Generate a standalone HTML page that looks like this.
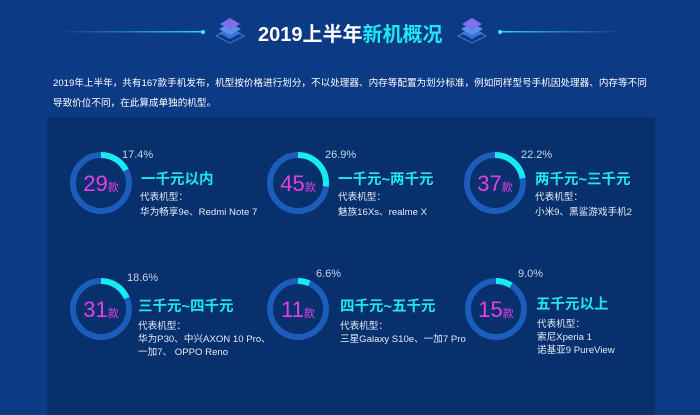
<!DOCTYPE html>
<html><head><meta charset="utf-8"><style>
body{margin:0;width:700px;height:415px;overflow:hidden;background:#0c3a84;font-family:"Liberation Sans","Noto Sans CJK SC",sans-serif;position:relative;color:#fff}
.a{position:absolute;white-space:nowrap}
.p{font-size:9.6px;color:#fff;left:53px}
.pct{font-size:11px;color:#c8d4ea}
.t{font-size:14.5px;font-weight:bold;color:#1ee8f2}
.s{font-size:9.6px;color:#e4ebf7;line-height:15px}
.n{font-size:22px;color:#e53fe6;text-align:center;width:60px}
.n small{font-size:11px}
</style></head><body>
<div class="a" style="left:47px;top:117px;width:608px;height:298px;background:#08306c"></div>
<svg class="a" style="left:0;top:0" width="700" height="60">
<defs><linearGradient id="l1" x1="0" x2="1"><stop offset="0" stop-color="#2bb8ff" stop-opacity="0"/><stop offset="1" stop-color="#2bd8ff"/></linearGradient>
<linearGradient id="l2" x1="1" x2="0"><stop offset="0" stop-color="#2bb8ff" stop-opacity="0"/><stop offset="1" stop-color="#2bd8ff"/></linearGradient></defs>
<rect x="55" y="31" width="148" height="1.5" fill="url(#l1)"/><circle cx="203" cy="32" r="2" fill="#3ef"/>
<rect x="500" y="31" width="128" height="1.5" fill="url(#l2)"/><circle cx="500" cy="32" r="2" fill="#3ef"/>
<g transform="translate(230,30)"><path d="M-14 6 L0 -1 L14 6 L0 13Z" fill="none" stroke="#2f7fd0"/><path d="M-11 3 L0 -3 L11 3 L0 9Z" fill="#3c72d8"/><path d="M-11 -1 L0 -7 L11 -1 L0 5Z" fill="#5a8ff0"/><path d="M-10 -6 L0 -12 L10 -6 L0 0Z" fill="#7d70e8"/></g>
<g transform="translate(472,30)"><path d="M-14 6 L0 -1 L14 6 L0 13Z" fill="none" stroke="#2f7fd0"/><path d="M-11 3 L0 -3 L11 3 L0 9Z" fill="#3c72d8"/><path d="M-11 -1 L0 -7 L11 -1 L0 5Z" fill="#5a8ff0"/><path d="M-10 -6 L0 -12 L10 -6 L0 0Z" fill="#7d70e8"/></g>
</svg>
<div class="a" style="left:258px;top:18px;font-size:20px;font-weight:bold">2019上半年<span style="color:#1ee8f2">新机概况</span></div>
<div class="a p" style="top:75px">2019年上半年，共有167款手机发布，机型按价格进行划分，不以处理器、内存等配置为划分标准，例如同样型号手机因处理器、内存等不同</div>
<div class="a p" style="top:95px">导致价位不同，在此算成单独的机型。</div>

<svg class="a" style="left:0;top:0" width="700" height="415" fill="none" stroke-width="6">
<g stroke="#1c5cba"><circle cx="101" cy="183" r="28"/><circle cx="298" cy="183" r="28"/><circle cx="495" cy="183" r="28"/><circle cx="101" cy="309" r="28"/><circle cx="298" cy="309" r="28"/><circle cx="496" cy="309" r="28"/></g>
<g stroke="#16eaf2">
<circle cx="101" cy="183" r="28" stroke-dasharray="30.6 200" transform="rotate(-90 101 183)"/>
<circle cx="298" cy="183" r="28" stroke-dasharray="47.3 200" transform="rotate(-90 298 183)"/>
<circle cx="495" cy="183" r="28" stroke-dasharray="39.1 200" transform="rotate(-90 495 183)"/>
<circle cx="101" cy="309" r="28" stroke-dasharray="32.7 200" transform="rotate(-90 101 309)"/>
<circle cx="298" cy="309" r="28" stroke-dasharray="11.6 200" transform="rotate(-90 298 309)"/>
<circle cx="496" cy="309" r="28" stroke-dasharray="15.8 200" transform="rotate(-90 496 309)"/>
</g></svg>

<div class="a n" style="left:71px;top:171px">29<small>款</small></div>
<div class="a n" style="left:268px;top:171px">45<small>款</small></div>
<div class="a n" style="left:465px;top:171px">37<small>款</small></div>
<div class="a n" style="left:71px;top:297px">31<small>款</small></div>
<div class="a n" style="left:268px;top:297px">11<small>款</small></div>
<div class="a n" style="left:466px;top:297px">15<small>款</small></div>

<div class="a pct" style="left:122px;top:149px">17.4%</div>
<div class="a pct" style="left:325px;top:149px">26.9%</div>
<div class="a pct" style="left:521px;top:149px">22.2%</div>
<div class="a pct" style="left:127px;top:272px">18.6%</div>
<div class="a pct" style="left:316px;top:268px">6.6%</div>
<div class="a pct" style="left:518px;top:268px">9.0%</div>

<div class="a t" style="left:141px;top:168px">一千元以内</div>
<div class="a t" style="left:338px;top:168px">一千元~两千元</div>
<div class="a t" style="left:535px;top:168px">两千元~三千元</div>
<div class="a t" style="left:138px;top:295px">三千元~四千元</div>
<div class="a t" style="left:340px;top:295px">四千元~五千元</div>
<div class="a t" style="left:536px;top:293px">五千元以上</div>

<div class="a s" style="left:140px;top:190px">代表机型：<br>华为畅享9e、Redmi Note 7</div>
<div class="a s" style="left:338px;top:190px">代表机型：<br>魅族16Xs、realme X</div>
<div class="a s" style="left:535px;top:190px">代表机型：<br>小米9、黑鲨游戏手机2</div>
<div class="a s" style="left:138px;top:320px;line-height:13px">代表机型：<br>华为P30、中兴AXON 10 Pro、<br>一加7、 OPPO Reno</div>
<div class="a s" style="left:340px;top:320px;line-height:13px">代表机型：<br>三星Galaxy S10e、一加7 Pro</div>
<div class="a s" style="left:537px;top:318px;line-height:13px">代表机型：<br>索尼Xperia 1<br>诺基亚9 PureView</div>
</body></html>
